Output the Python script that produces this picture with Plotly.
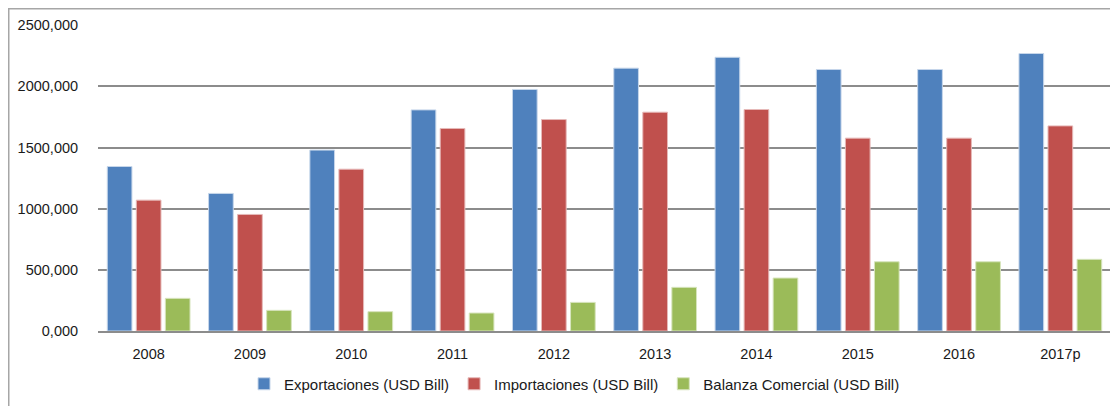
import plotly.graph_objects as go

years = ["2008", "2009", "2010", "2011", "2012", "2013", "2014", "2015", "2016", "2017p"]
exportaciones = [1345, 1125, 1479, 1808, 1975, 2149, 2238, 2138, 2138, 2269]
importaciones = [1070, 953, 1323, 1656, 1729, 1789, 1811, 1577, 1577, 1677]
balanza = [267, 169, 158, 147, 234, 357, 433, 566, 566, 586]

series_names = ["Exportaciones (USD Bill)", "Importaciones (USD Bill)", "Balanza Comercial (USD Bill)"]
series_colors = ["#4F81BD", "#C0504D", "#9BBB59"]
edge_colors = ["#c6d6ea", "#e6b9b8", "#d7e4bd"]

y_tickvals = [0, 500, 1000, 1500, 2000, 2500]
y_ticktext = ["0,000", "500,000", "1000,000", "1500,000", "2000,000", "2500,000"]

fig = go.Figure()
for name, vals, col, edge in zip(series_names, [exportaciones, importaciones, balanza], series_colors, edge_colors):
    fig.add_trace(go.Bar(
        x=years, y=vals, name=name,
        marker=dict(color=col, line=dict(color=edge, width=1)),
    ))

font_family = "Liberation Sans, Arial, sans-serif"
text_color = "#1a1a1a"

# page body has an 8px default margin: figure origin sits at (8, 8) in the window
W, H = 1110, 398
ML, MR, MT, MB = 90, 7, 17, 75
pw = W - ML - MR
ph = H - MT - MB

fig.update_layout(
    width=W, height=H,
    margin=dict(l=ML, r=MR, t=MT, b=MB, autoexpand=False),
    paper_bgcolor="white", plot_bgcolor="white",
    barmode="group", bargap=0.14, bargroupgap=0.15,
    font=dict(family=font_family, color=text_color, size=15),
    showlegend=True,
    legend=dict(
        orientation="h", x=(566.5 - ML) / pw, xanchor="center",
        y=(H - MB - 376) / ph, yanchor="middle",
        font=dict(family=font_family, size=15, color=text_color),
        itemclick=False,
    ),
    xaxis=dict(
        type="category", showgrid=False, showline=True, linecolor="#8c8c8c", linewidth=1.5,
        ticks="outside", ticklen=9, tickcolor="rgba(0,0,0,0)", automargin=False,
        tickfont=dict(family=font_family, size=14.5, color=text_color),
    ),
    yaxis=dict(
        range=[0, 2502], tickvals=y_tickvals, ticktext=y_ticktext, automargin=False,
        showgrid=True, gridcolor="#8c8c8c", gridwidth=1.5, zeroline=False, showline=False,
        ticks="outside", ticklen=16, tickcolor="rgba(0,0,0,0)",
        tickfont=dict(family=font_family, size=14.5, color=text_color),
    ),
    shapes=[dict(
        type="rect", xref="paper", yref="paper",
        x0=(0.75 - ML) / pw, x1=(W + 10 - ML) / pw,
        y0=(H - MB - (H + 10)) / ph, y1=(H - MB - 0.75) / ph,
        line=dict(color="#a6a6a6", width=1.5), fillcolor="rgba(0,0,0,0)", layer="below",
    )],
)

fig.write_html("out.html")
